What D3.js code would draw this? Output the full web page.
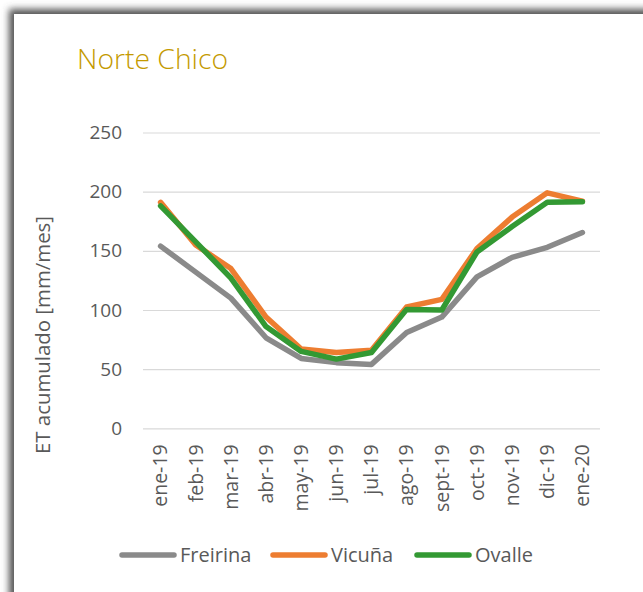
<!DOCTYPE html>
<html>
<head>
<meta charset="utf-8">
<script src="https://cdn.jsdelivr.net/npm/d3@7"></script>
<style>
  html, body { margin: 0; padding: 0; background: #fff; }
  svg { display: block; }
  text { font-family: "Open Sans", "Noto Sans", sans-serif; }
</style>
</head>
<body>
<svg id="chart" width="643" height="592"></svg>
<script>
const months = ["ene-19","feb-19","mar-19","abr-19","may-19","jun-19","jul-19","ago-19","sept-19","oct-19","nov-19","dic-19","ene-20"];
const freirina = [154, 132, 110, 76.5, 59, 55.5, 54, 81, 94, 128, 144.5, 153, 165.5];
const vicuna   = [191, 155, 135, 94, 67, 64, 66, 102.5, 109, 152, 178.5, 199, 192];
const ovalle   = [188, 157.5, 127, 86, 65, 58.5, 64, 100.5, 100, 149, 170.5, 191, 191.5];
const yTicks = [0, 50, 100, 150, 200, 250];
const seriesNames = ["Freirina", "Vicuña", "Ovalle"];
const seriesColors = ["#8a8a8a", "#ed7d31", "#339933"];

const series = [freirina, vicuna, ovalle].map((v, i) => ({name: seriesNames[i], values: v, color: seriesColors[i]}));

const svg = d3.select("#chart");

// shadow frame
const defs = svg.append("defs");
const f = defs.append("filter").attr("id", "blur").attr("x", "-10%").attr("y", "-10%").attr("width", "120%").attr("height", "120%");
f.append("feGaussianBlur").attr("stdDeviation", 3.5);
svg.append("rect").attr("x", 9).attr("y", 9).attr("width", 700).attr("height", 700)
  .attr("fill", "#555").attr("filter", "url(#blur)");
svg.append("rect").attr("x", 14).attr("y", 14).attr("width", 700).attr("height", 700).attr("fill", "#fff");

const plot = {left: 143, right: 600, top: 132.5, bottom: 428.3};

const x = d3.scaleBand().domain(months).range([plot.left, plot.right]);
const y = d3.scaleLinear().domain([0, 250]).range([plot.bottom, plot.top]);

// title
svg.append("text").attr("x", 77).attr("y", 69).attr("fill", "#c49a00")
  .attr("font-size", 28).attr("font-weight", 300)
  .attr("textLength", 151).attr("lengthAdjust", "spacingAndGlyphs").text("Norte Chico");

// grid + y axis
const yAxis = d3.axisLeft(y).tickValues(yTicks).tickSize(-(plot.right - plot.left)).tickPadding(21);
const gy = svg.append("g").attr("transform", `translate(${plot.left},0)`).call(yAxis);
gy.select(".domain").remove();
gy.selectAll(".tick line").attr("stroke", "#d9d9d9").attr("stroke-width", 1.2);
gy.selectAll(".tick text").attr("fill", "#595959").attr("font-size", 19).attr("font-family", "Open Sans, sans-serif");

// x axis labels
const xAxis = d3.axisBottom(x).tickSize(0).tickPadding(0);
const gx = svg.append("g").attr("transform", `translate(0,${plot.bottom})`).call(xAxis);
gx.select(".domain").remove();
gx.selectAll(".tick text")
  .attr("fill", "#595959").attr("font-size", 19.5).attr("font-family", "Open Sans, sans-serif")
  .attr("transform", "rotate(-90)")
  .attr("text-anchor", "end")
  .attr("x", -16).attr("y", 0).attr("dy", "0.35em");

// y axis title
svg.append("text").attr("transform", `translate(50,335) rotate(-90)`)
  .attr("text-anchor", "middle").attr("fill", "#595959").attr("font-size", 19.5)
  .attr("textLength", 238).attr("lengthAdjust", "spacingAndGlyphs")
  .text("ET acumulado [mm/mes]");

// lines
const line = d3.line().x((d, i) => x(months[i]) + x.bandwidth() / 2).y(d => y(d));
series.forEach(s => {
  svg.append("path").datum(s.values).attr("d", line)
    .attr("fill", "none").attr("stroke", s.color).attr("stroke-width", 5.5)
    .attr("stroke-linejoin", "round").attr("stroke-linecap", "round");
});

// legend
const legendX = [122, 273, 417];
const legendW = [73, 71, 71];
series.forEach((s, i) => {
  const g = svg.append("g").attr("transform", `translate(${legendX[i]},555)`);
  g.append("line").attr("x1", 0).attr("x2", 52).attr("y1", 0).attr("y2", 0)
    .attr("stroke", s.color).attr("stroke-width", 5.5).attr("stroke-linecap", "round");
  g.append("text").attr("x", 58).attr("y", 0).attr("dy", "0.35em")
    .attr("fill", "#595959").attr("font-size", 20).text(s.name);
});
</script>
</body>
</html>
